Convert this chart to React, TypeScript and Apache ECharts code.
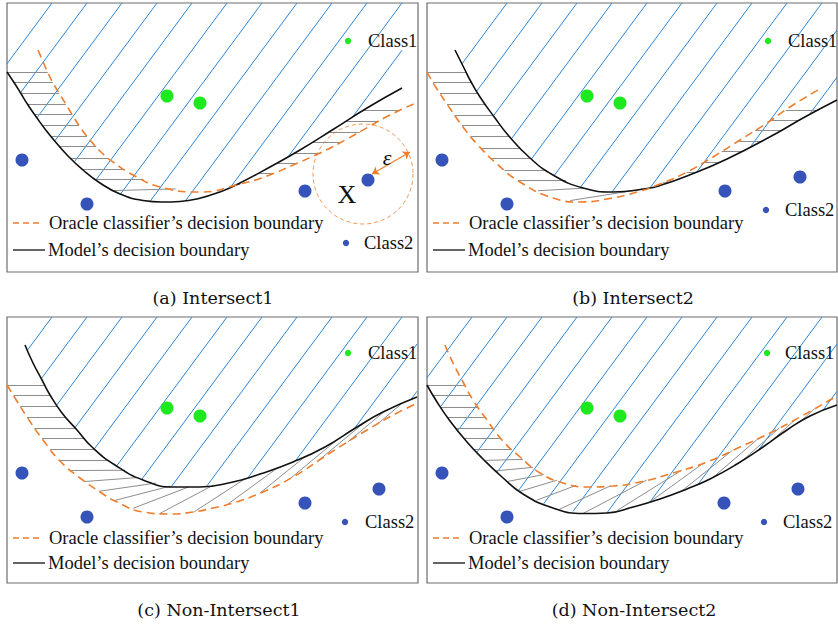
import React, { useEffect, useRef } from "react";
import * as echarts from "echarts";

type P = [number, number];

// ---------- data (page pixel units inside each panel) ----------
// (a) Intersect1
const modelA: P[] = [[7,72],[15,84],[20,92],[28,105],[37,118],[45,129],[53,139],[68,156],[83,170],[100,183],[120,194],[143,200.5],[162,202],[180,201.5],[197,199],[220,192],[240,183],[270,167],[300,150],[333,129.5],[367,108],[402,88]];
const oracleA: P[] = [[38,50],[48,73],[53,83],[59,93],[67,106],[73,116],[80,127],[90,140],[102,153],[113,162],[133,175],[160,187],[200,192],[240,184],[267,176],[293,165],[320,153],[347,139],[370,126],[390,115],[418,102]];
const class1A: P[] = [[167,96],[200,103]];
const class2A: P[] = [[22,160],[87,204],[305,191],[368,180]];
const epsCircleA: P[] = [[363,174]];
const epsArrowA: P[] = [[372,174],[410,152]];

// (b) Intersect2
const modelB: P[] = [[455,50],[465,70],[470,80],[480,97],[495,118],[508,135],[530,158],[553,175],[583,188],[613,192],[647,188.5],[660,185.5],[687,176],[727,159],[777,133],[803,118],[837,100]];
const oracleB: P[] = [[427,72],[435,86],[447,104],[463,127],[477,144],[497,164],[520,182],[553,198],[580,202],[607,199],[637,192],[660,184],[687,172],[713,157],[740,140],[767,123],[790,107],[818,90]];
const class1B: P[] = [[587,96],[620,103]];
const class2B: P[] = [[442,160],[507,204],[725,191],[800,177]];

// (c) Non-Intersect1
const modelC: P[] = [[25,345],[33,363],[42,380],[50,395],[62,413],[77,430],[92,447],[115,465],[143,480],[173,487],[200,487],[233,482],[260,474],[293,462],[325,447],[357,427],[383,412],[417,397]];
const oracleC: P[] = [[7,385],[15,398],[27,417],[43,440],[60,461],[80,478],[100,492],[117,502],[143,512],[170,514],[193,512],[213,508],[233,503],[263,492],[293,477],[330,453],[367,430],[397,413],[418,403]];
const class1C: P[] = [[167,408],[200,416]];
const class2C: P[] = [[22,473],[87,517],[305,503],[379,489]];

// (d) Non-Intersect2
const modelD: P[] = [[427,385],[437,402],[450,421],[467,442],[483,459],[502,477],[523,494],[553,508],[583,513.5],[607,513],[633,507],[660,499],[687,489],[710,479],[737,464],[763,447],[787,430],[810,416],[837,405]];
const oracleD: P[] = [[445,345],[453,363],[463,382],[473,400],[487,420],[502,440],[520,457],[540,473],[563,483],[587,487],[613,486],[640,482],[673,473],[707,462],[740,447],[770,433],[800,417],[837,396]];
const class1D: P[] = [[587,408],[620,416]];
const class2D: P[] = [[442,473],[507,517],[724,503],[798,489]];

// texts
const captions = ["(a) Intersect1", "(b) Intersect2", "(c) Non-Intersect1", "(d) Non-Intersect2"];
const legendOracle = "Oracle classifier\u2019s decision boundary";
const legendModel = "Model\u2019s decision boundary";
const legendClass1 = "Class1";
const legendClass2 = "Class2";

// hatch direction knots (x -> slope) for the grey hatching between the boundaries
const greyKnotsA: P[] = [[0,0],[105,0],[145,-0.12],[190,-0.2],[230,-0.1],[245,0],[420,0]];
const greyKnotsB: P[] = [[420,0],[525,0],[560,-0.15],[620,-0.2],[650,-0.1],[665,0],[840,0]];
const greyKnotsC: P[] = [[0,0],[70,0],[100,-0.15],[120,-0.3],[145,-0.46],[175,-0.6],[215,-0.7],[265,-0.82],[420,-0.85]];
const greyKnotsD: P[] = [[420,0],[480,0],[500,-0.12],[523,-0.33],[563,-0.47],[600,-0.57],[640,-0.7],[700,-0.85],[840,-0.95]];

// ---------- styling ----------
const BLUE_HATCH = "#2b86d6";
const GREY_HATCH = "#8d8d8d";
const ORANGE = "#ee7d2c";
const BLACK = "#111111";
const DOT_BLUE = "#3553b9";
const DOT_GREEN = "#1ee81e";
const SERIF = '"Liberation Serif", "Times New Roman", serif';
const CAP_FONT = '"DejaVu Serif", serif';

interface Panel {
  box: [number, number, number, number];
  model: P[]; oracle: P[]; c1: P[]; c2: P[];
  greyFrom: "model" | "oracle";
  knots: P[];
  bluePhase: number; blueMin: number;
  leg: { ox: number; oy: number; my: number; c1: P; c2: P; c1t: number; c2t: number };
  cap: P;
}

const panels: Panel[] = [
  { box: [7,3,418,272], model: modelA, oracle: oracleA, c1: class1A, c2: class2A, greyFrom: "model", knots: greyKnotsA,
    bluePhase: 52, blueMin: 50, leg: { ox: 13, oy: 223, my: 250, c1: [348,41], c2: [346,243], c1t: 368, c2t: 364 }, cap: [213,298] },
  { box: [427,3,837,272], model: modelB, oracle: oracleB, c1: class1B, c2: class2B, greyFrom: "oracle", knots: greyKnotsB,
    bluePhase: 472, blueMin: 480, leg: { ox: 433, oy: 223, my: 250, c1: [768,41], c2: [766,210], c1t: 788, c2t: 785 }, cap: [633,298] },
  { box: [7,317,418,583], model: modelC, oracle: oracleC, c1: class1C, c2: class2C, greyFrom: "oracle", knots: greyKnotsC,
    bluePhase: 52, blueMin: 40, leg: { ox: 13, oy: 538, my: 563, c1: [348,353], c2: [345,522], c1t: 368, c2t: 365 }, cap: [219,610] },
  { box: [427,317,837,583], model: modelD, oracle: oracleD, c1: class1D, c2: class2D, greyFrom: "model", knots: greyKnotsD,
    bluePhase: 472, blueMin: 465, leg: { ox: 433, oy: 538, my: 563, c1: [767,353], c2: [764,522], c1t: 785, c2t: 783 }, cap: [634,610] },
];

// ---------- geometry helpers for the hatch texture ----------
function yAt(c: P[], x: number): number | null {
  const n = c.length;
  if (x < c[0][0] || x > c[n - 1][0]) return null;
  for (let i = 0; i < n - 1; i++) {
    const a = c[i], b = c[i + 1];
    if (x <= b[0]) return a[1] + ((b[1] - a[1]) * (x - a[0])) / (b[0] - a[0] || 1);
  }
  return c[n - 1][1];
}
function knotAt(k: P[], x: number): number {
  if (x <= k[0][0]) return k[0][1];
  if (x >= k[k.length - 1][0]) return k[k.length - 1][1];
  return yAt(k, x) as number;
}

function blueSegs(model: P[], box: number[], phase: number, xtMin: number): P[][] {
  const [L, T, R, B] = box;
  const step = 35, s = 1.35;
  const segs: P[][] = [];
  const k0 = Math.ceil((xtMin - phase) / step);
  for (let xt = phase + k0 * step; xt <= R + 300; xt += step) {
    let start: P | null = null, last: P | null = null;
    for (let x = Math.min(xt, R); x >= L - 0.01; x -= 0.25) {
      const y = T + s * (xt - x);
      if (y > B) break;
      const yb = yAt(model, x);
      const inside = yb !== null && y <= yb && y >= T;
      if (inside) { if (!start) start = [x, y]; last = [x, y]; }
      else if (start && last) { segs.push([start, last]); start = null; last = null; }
    }
    if (start && last) segs.push([start, last]);
  }
  return segs;
}

function greySegs(from: P[], other: P[], knots: P[], box: number[]): P[][] {
  const [, T, R, B] = box;
  const maxDs = 34;
  const xs = from[0][0], xe = from[from.length - 1][0];
  const anchors: P[] = [];
  let acc = 0;
  let px = xs, py = yAt(from, xs) as number;
  anchors.push([px, py]);
  for (let x = xs + 0.25; x <= xe; x += 0.25) {
    const y = yAt(from, x) as number;
    const dl = Math.hypot(x - px, y - py);
    acc += dl;
    const tx = (x - px) / dl, ty = (y - py) / dl;
    const m = knotAt(knots, x);
    const gap = 10.5 + 8 * Math.abs(m);
    const ul = Math.hypot(1, m);
    const cross = Math.abs(tx * (m / ul) - ty * (1 / ul));
    const ds = Math.min(maxDs, gap / Math.max(cross, 1e-3));
    if (acc >= ds) { anchors.push([x, y]); acc = 0; }
    px = x; py = y;
  }
  const segs: P[][] = [];
  for (const [ax, ay] of anchors) {
    const m = knotAt(knots, ax);
    const ul = Math.hypot(1, m);
    const ux = 1 / ul, uy = m / ul;
    let s0: number | null = null, fSign: number | null = null;
    let hit: P | null = null, ok = true, first = true;
    for (let t = 1.5; t <= 140; t += 0.25) {
      const x = ax + ux * t, y = ay + uy * t;
      if (x > R || y < T || y > B) { ok = false; break; }
      const o = yAt(other, x), f = yAt(from, x);
      if (first) {
        first = false;
        if (o !== null && f !== null && !((y - o) * (y - f) < 0)) { ok = false; break; }
      }
      if (f !== null) {
        const sg = Math.sign(y - f);
        if (fSign === null) fSign = sg;
        else if (sg !== 0 && sg !== fSign) { ok = false; break; }
      }
      if (o !== null) {
        const sg = Math.sign(y - o);
        if (s0 === null) s0 = sg;
        else if (sg !== s0) { hit = [x, y]; break; }
      }
    }
    if (ok && hit) segs.push([[ax, ay], hit]);
  }
  return segs;
}

function buildOption() {
  const grid: any[] = [], xAxis: any[] = [], yAxis: any[] = [], series: any[] = [], elements: any[] = [];
  const legFont = `18.5px ${SERIF}`;
  panels.forEach((p, i) => {
    const [L, T, R, B] = p.box;
    grid.push({ left: L, top: T, width: R - L, height: B - T, show: true, borderColor: "#6c6c6c", borderWidth: 1.2, backgroundColor: "transparent" });
    xAxis.push({ type: "value", gridIndex: i, min: L, max: R, show: false });
    yAxis.push({ type: "value", gridIndex: i, min: T, max: B, inverse: true, show: false });
    const blue = blueSegs(p.model, p.box, p.bluePhase, p.blueMin);
    const grey = p.greyFrom === "model" ? greySegs(p.model, p.oracle, p.knots, p.box) : greySegs(p.oracle, p.model, p.knots, p.box);
    series.push({ type: "lines", coordinateSystem: "cartesian2d", xAxisIndex: i, yAxisIndex: i, silent: true, z: 1,
      lineStyle: { color: BLUE_HATCH, width: 1, opacity: 1, curveness: 0 }, data: blue.map((c) => ({ coords: c })) });
    series.push({ type: "lines", coordinateSystem: "cartesian2d", xAxisIndex: i, yAxisIndex: i, silent: true, z: 1,
      lineStyle: { color: GREY_HATCH, width: 1, opacity: 1, curveness: 0 }, data: grey.map((c) => ({ coords: c })) });
    series.push({ type: "line", xAxisIndex: i, yAxisIndex: i, data: p.model, smooth: 0.5, symbol: "none", z: 3,
      lineStyle: { color: BLACK, width: 1.6 } });
    series.push({ type: "line", xAxisIndex: i, yAxisIndex: i, data: p.oracle, smooth: 0.5, symbol: "none", z: 3,
      lineStyle: { color: ORANGE, width: 1.6, type: [8, 5] } });
    series.push({ type: "scatter", xAxisIndex: i, yAxisIndex: i, data: p.c1, symbolSize: 13, z: 4, itemStyle: { color: DOT_GREEN, opacity: 1 } });
    series.push({ type: "scatter", xAxisIndex: i, yAxisIndex: i, data: p.c2, symbolSize: 13, z: 4, itemStyle: { color: DOT_BLUE, opacity: 1 } });

    const lg = p.leg;
    elements.push({ type: "line", shape: { x1: lg.ox, y1: lg.oy, x2: lg.ox + 29, y2: lg.oy }, style: { stroke: ORANGE, lineWidth: 1.5, lineDash: [6, 4] }, z: 10 });
    elements.push({ type: "line", shape: { x1: lg.ox, y1: lg.my, x2: lg.ox + 32, y2: lg.my }, style: { stroke: BLACK, lineWidth: 1.3 }, z: 10 });
    elements.push({ type: "text", x: lg.ox + 36, y: lg.oy, style: { text: legendOracle, font: legFont, fill: "#111", align: "left", verticalAlign: "middle" }, z: 10 });
    elements.push({ type: "text", x: lg.ox + 35, y: lg.my, style: { text: legendModel, font: legFont, fill: "#111", align: "left", verticalAlign: "middle" }, z: 10 });
    elements.push({ type: "circle", shape: { cx: lg.c1[0], cy: lg.c1[1], r: 3.2 }, style: { fill: DOT_GREEN }, z: 10 });
    elements.push({ type: "circle", shape: { cx: lg.c2[0], cy: lg.c2[1], r: 3.2 }, style: { fill: DOT_BLUE }, z: 10 });
    elements.push({ type: "text", x: lg.c1t, y: lg.c1[1], style: { text: legendClass1, font: legFont, fill: "#111", align: "left", verticalAlign: "middle" }, z: 10 });
    elements.push({ type: "text", x: lg.c2t, y: lg.c2[1], style: { text: legendClass2, font: legFont, fill: "#111", align: "left", verticalAlign: "middle" }, z: 10 });
    elements.push({ type: "text", x: p.cap[0], y: p.cap[1], style: { text: captions[i], font: `17.5px ${CAP_FONT}`, fill: "#111", align: "center", verticalAlign: "middle" }, z: 10 });
  });

  // epsilon neighbourhood in panel (a)
  series.push({ type: "scatter", xAxisIndex: 0, yAxisIndex: 0, data: epsCircleA, symbolSize: 100, z: 2, silent: true,
    itemStyle: { color: "rgba(0,0,0,0)", borderColor: ORANGE, borderWidth: 1, borderType: [4, 3] } });
  series.push({ type: "lines", coordinateSystem: "cartesian2d", xAxisIndex: 0, yAxisIndex: 0, z: 3, silent: true,
    symbol: ["arrow", "arrow"], symbolSize: 7,
    lineStyle: { color: ORANGE, width: 1.2, opacity: 1, curveness: 0 }, data: [{ coords: epsArrowA }] });
  elements.push({ type: "text", x: 347, y: 194, style: { text: "X", font: `26px ${SERIF}`, fill: "#111", align: "center", verticalAlign: "middle" }, z: 10 });
  elements.push({ type: "text", x: 387, y: 157, style: { text: "\u03b5", font: `italic 22px ${SERIF}`, fill: "#111", align: "center", verticalAlign: "middle" }, z: 10 });

  return { animation: false, backgroundColor: "#ffffff", grid, xAxis, yAxis, series, graphic: { elements } };
}

export default function App() {
  const ref = useRef<HTMLDivElement | null>(null);
  useEffect(() => {
    document.body.style.margin = "0";
    if (!ref.current) return;
    const chart = echarts.init(ref.current, undefined, { renderer: "svg" });
    chart.setOption(buildOption() as any);
    return () => chart.dispose();
  }, []);
  return <div ref={ref} style={{ width: 838, height: 624, background: "#fff" }} />;
}
